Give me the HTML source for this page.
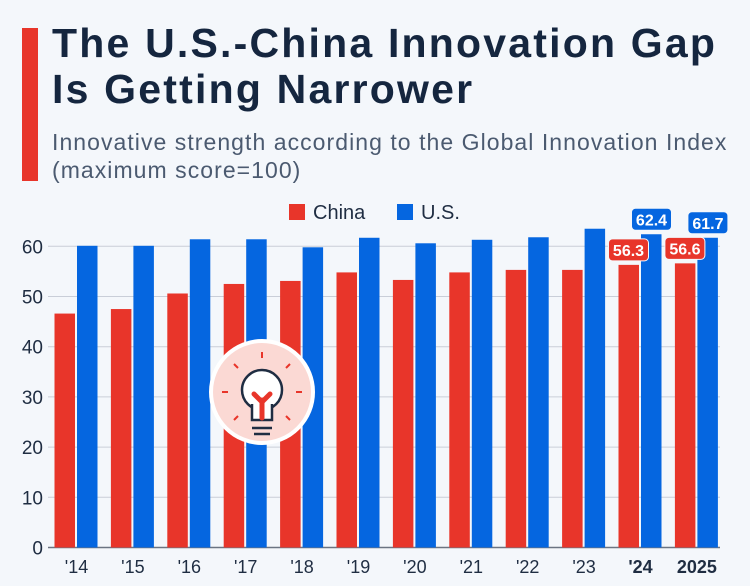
<!DOCTYPE html>
<html><head><meta charset="utf-8"><style>
body{margin:0;background:#f4f7fb;font-family:"Liberation Sans",sans-serif;}
#wrap{position:relative;width:750px;height:586px;overflow:hidden;background:#f4f7fb;}
.tt{position:absolute;left:52px;top:20px;font-size:41px;font-weight:bold;color:#15263f;line-height:46px;letter-spacing:2.2px;white-space:nowrap}
.st{position:absolute;left:52px;top:128px;font-size:23px;color:#4b5a70;line-height:28px;letter-spacing:1.05px;white-space:nowrap}
</style></head><body>
<div id="wrap">
<div style="position:absolute;left:22px;top:28px;width:16px;height:153px;background:#e8352a"></div>
<div class="tt">The U.S.-China Innovation Gap<br>Is Getting Narrower</div>
<div class="st">Innovative strength according to the Global Innovation Index<br>(maximum score=100)</div>
<svg id="c" width="750" height="586" style="position:absolute;left:0;top:0"></svg>
</div>
<script>
const categories=["'14","'15","'16","'17","'18","'19","'20","'21","'22","'23","'24","2025"];
const china=[46.6,47.5,50.6,52.5,53.1,54.8,53.3,54.8,55.3,55.3,56.3,56.6];
const us=[60.1,60.1,61.4,61.4,59.8,61.7,60.6,61.3,61.8,63.5,62.4,61.7];
const yTicks=[0,10,20,30,40,50,60];
const labeled=[10,11];
const NS="http://www.w3.org/2000/svg";
const svg=document.getElementById('c');
const y=v=>547.5-v*5.02;
const gx=i=>54.5+i*56.4;
function mk(t,a,p){const e=document.createElementNS(NS,t);for(const k in a)e.setAttribute(k,a[k]);(p||svg).appendChild(e);return e;}
yTicks.forEach(v=>{
 const l=mk('line',{x1:48,x2:720,y1:y(v),y2:y(v),stroke:v?'#c9ced8':'#6b7482','stroke-width':v?1:1.5});
 
 
 const t=mk('text',{x:43,y:y(v)+7,'text-anchor':'end','font-size':19,fill:'#1f2d42'});t.textContent=v;
 
 
});
categories.forEach((c,i)=>{
 const x=gx(i);
 const r=mk('rect',{x:x,y:y(china[i]),width:20.5,height:y(0)-y(china[i]),fill:'#e8352a'});
 
 
 const b=mk('rect',{x:x+22.5,y:y(us[i]),width:20.5,height:y(0)-y(us[i]),fill:'#0566e0'});
 
 
 const t=mk('text',{x:x+22,y:573,'text-anchor':'middle','font-size':18,fill:'#1f2d42','font-weight':i>=10?'bold':'normal'});t.textContent=c;
 
 
});
labeled.forEach(i=>{
 const x=gx(i);
 [[china[i],x+10,'#e8352a'],[us[i],x+33,'#0566e0']].forEach(([v,cx,col])=>{
  const g=mk('g',{});
  
  
  mk('rect',{x:cx-20,y:y(v)-26,width:40,height:22,rx:4,fill:col,stroke:'#f4f7fb','stroke-width':1},g);
  const t=mk('text',{x:cx,y:y(v)-9,'text-anchor':'middle','font-size':16,'font-weight':'bold',fill:'#fff'},g);t.textContent=v.toFixed(1);
 });
});
const lg=mk('g',{});


mk('rect',{x:289,y:204,width:16,height:16,fill:'#e8352a'},lg);
let t=mk('text',{x:313,y:219,'font-size':20,fill:'#1f2d42'},lg);t.textContent='China';
mk('rect',{x:397,y:204,width:16,height:16,fill:'#0566e0'},lg);
t=mk('text',{x:421,y:219,'font-size':20,fill:'#1f2d42'},lg);t.textContent='U.S.';
const ic=mk('g',{});


mk('circle',{cx:262,cy:392,r:51,fill:'#fbd9d4',stroke:'#fff','stroke-width':4},ic);
mk('circle',{cx:262,cy:390,r:20,fill:'#fff',stroke:'#1f2d42','stroke-width':2.5},ic);
mk('path',{d:'M252 404 L252 420 L272 420 L272 404',fill:'#fff',stroke:'#1f2d42','stroke-width':2.5},ic);
mk('path',{d:'M252 428 L272 428 M254 434 L270 434',stroke:'#1f2d42','stroke-width':2.5},ic);
mk('path',{d:'M262 418 L262 400 M254 394 L262 402 L270 394',stroke:'#e8352a','stroke-width':5,fill:'none','stroke-linecap':'round'},ic);
[[262,352,262,358],[234,364,238,368],[290,364,286,368],[222,392,228,392],[296,392,302,392],[234,420,238,416],[290,420,286,416]].forEach(a=>mk('line',{x1:a[0],y1:a[1],x2:a[2],y2:a[3],stroke:'#e8352a','stroke-width':2},ic));
</script>
</body></html>
